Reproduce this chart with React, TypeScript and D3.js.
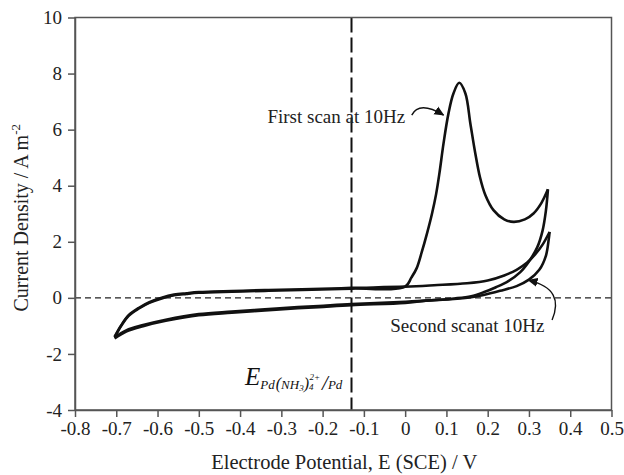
import { useEffect, useRef } from 'react';
import * as d3 from 'd3';

type Pt = [number, number];

const xTickValues = [-0.8, -0.7, -0.6, -0.5, -0.4, -0.3, -0.2, -0.1, 0, 0.1, 0.2, 0.3, 0.4, 0.5];
const yTickValues = [-4, -2, 0, 2, 4, 6, 8, 10];

// [potential V, current density A m-2]
const upperBranch: Pt[] = [
  [-0.704, -1.41], [-0.688, -1.0], [-0.67, -0.64], [-0.645, -0.38], [-0.62, -0.18],
  [-0.59, -0.02], [-0.56, 0.09], [-0.53, 0.14], [-0.5, 0.18], [-0.42, 0.22],
  [-0.34, 0.25], [-0.25, 0.28], [-0.13, 0.33], [0, 0.4],
];
const firstScanPeak: Pt[] = [
  [0, 0.4], [0.015, 0.72], [0.028, 1.06], [0.04, 1.62], [0.053, 2.3], [0.065, 3.0],
  [0.075, 3.7], [0.083, 4.44], [0.093, 5.51], [0.105, 6.58], [0.117, 7.29], [0.131, 7.67],
  [0.146, 7.29], [0.158, 6.22], [0.17, 5.15], [0.181, 4.32], [0.194, 3.68], [0.214, 3.13],
  [0.24, 2.8], [0.263, 2.71], [0.29, 2.8], [0.311, 3.01], [0.33, 3.38], [0.346, 3.87],
];
const firstScanReturn: Pt[] = [
  [0.346, 3.87], [0.341, 3.1], [0.333, 2.4], [0.32, 1.8], [0.3, 1.3], [0.279, 0.92],
  [0.25, 0.6], [0.22, 0.38], [0.19, 0.2], [0.16, 0.06], [0.12, -0.02], [0.05, -0.1],
];
const secondScanForward: Pt[] = [
  [0, 0.4], [0.07, 0.45], [0.15, 0.52], [0.2, 0.62], [0.24, 0.8], [0.27, 1.0],
  [0.295, 1.25], [0.315, 1.55], [0.333, 1.9], [0.35, 2.35],
];
const secondScanReturn: Pt[] = [
  [0.35, 2.35], [0.348, 2.1], [0.341, 1.5], [0.325, 1.0], [0.3, 0.65], [0.27, 0.42],
  [0.23, 0.25], [0.19, 0.1], [0.16, 0.02], [0.11, -0.05], [0.05, -0.1],
];
const lowerBranch: Pt[] = [
  [0, -0.14], [-0.13, -0.22], [-0.21, -0.29], [-0.26, -0.33], [-0.34, -0.41],
  [-0.42, -0.49], [-0.5, -0.58], [-0.58, -0.78], [-0.635, -0.97], [-0.676, -1.16], [-0.704, -1.41],
];

const equilibriumPotential = -0.13;

// annotation anchors, data units
const firstLabel: Pt = [0.0, 6.23];
const firstArrow: Pt[] = [[0.016, 6.52], [0.034, 7.04], [0.093, 6.52]];
const secondLabel: Pt = [-0.036, -1.22];
const secondArrow: Pt[] = [[0.356, -0.79], [0.376, -0.08], [0.362, 0.4], [0.299, 0.63]];
const eLabelPos: Pt = [-0.388, -3.12];

const serif = '"Liberation Serif", "Times New Roman", serif';

export default function App() {
  const ref = useRef<SVGSVGElement | null>(null);

  useEffect(() => {
    const svg = d3.select(ref.current);
    svg.selectAll('*').remove();

    const W = 624, H = 475;
    const margin = { top: 17.5, right: 12.5, bottom: 65, left: 75 };
    const width = W - margin.left - margin.right;
    const height = H - margin.top - margin.bottom;

    const x = d3.scaleLinear().domain([-0.8, 0.5]).range([0, width]);
    const y = d3.scaleLinear().domain([-4, 10]).range([height, 0]);

    svg.append('defs').append('marker')
      .attr('id', 'arrowhead')
      .attr('viewBox', '0 0 10 10')
      .attr('refX', 9).attr('refY', 5)
      .attr('markerWidth', 10).attr('markerHeight', 10)
      .attr('markerUnits', 'userSpaceOnUse')
      .attr('orient', 'auto')
      .append('path')
      .attr('d', 'M0,0.5 L10,5 L0,9.5 Z')
      .attr('fill', '#111');

    const g = svg.append('g').attr('transform', `translate(${margin.left},${margin.top})`);

    // zero line
    g.append('line')
      .attr('x1', 0).attr('x2', width)
      .attr('y1', y(0)).attr('y2', y(0))
      .attr('stroke', '#222').attr('stroke-width', 1.2)
      .attr('stroke-dasharray', '6,4');

    // equilibrium potential
    g.append('line')
      .attr('x1', x(equilibriumPotential)).attr('x2', x(equilibriumPotential))
      .attr('y1', 0).attr('y2', height)
      .attr('stroke', '#111').attr('stroke-width', 2)
      .attr('stroke-dasharray', '15,5');

    const line = d3.line<Pt>()
      .x(d => x(d[0]))
      .y(d => y(d[1]))
      .curve(d3.curveCatmullRom.alpha(0.5));

    // second scan traces sit a hair off the first one, so the shared parts read thicker
    const nudge = (pts: Pt[], di: number) => pts.map(d => [d[0], d[1] + di] as Pt);
    const branches: Pt[][] = [
      upperBranch.concat(firstScanPeak.slice(1)),
      firstScanReturn.concat(lowerBranch),
      nudge(upperBranch.slice(0, -1), 0.025).concat(secondScanForward),
      secondScanReturn.concat(nudge(lowerBranch, -0.04)),
    ];
    branches.forEach(b => {
      g.append('path')
        .datum(b)
        .attr('fill', 'none')
        .attr('stroke', '#111')
        .attr('stroke-width', 2.6)
        .attr('stroke-linejoin', 'round')
        .attr('d', line);
    });

    // frame
    g.append('rect')
      .attr('width', width).attr('height', height)
      .attr('fill', 'none').attr('stroke', '#555').attr('stroke-width', 1.5);

    const fmt = (d: d3.NumberValue) => String(Math.round(+d * 10) / 10);

    const xAxis = g.append('g')
      .attr('transform', `translate(0,${height})`)
      .call(d3.axisBottom(x).tickValues(xTickValues).tickSize(7).tickSizeOuter(0).tickPadding(5).tickFormat(fmt));
    const yAxis = g.append('g')
      .call(d3.axisLeft(y).tickValues(yTickValues).tickSize(7).tickSizeOuter(0).tickPadding(6).tickFormat(fmt));
    [xAxis, yAxis].forEach(a => {
      a.select('.domain').attr('stroke', '#555').attr('stroke-width', 1.5);
      a.selectAll('.tick line').attr('stroke', '#555').attr('stroke-width', 1.5);
      a.selectAll('.tick text')
        .attr('font-family', serif)
        .attr('font-size', 19)
        .attr('fill', '#222');
    });
    xAxis.selectAll('.tick text').attr('dy', '0.71em');

    // axis titles
    g.append('text')
      .attr('x', width / 2 + 1)
      .attr('y', height + 59)
      .attr('text-anchor', 'middle')
      .attr('font-family', serif).attr('font-size', 20.5).attr('fill', '#222')
      .text('Electrode Potential, E (SCE) / V');

    const yt = g.append('text')
      .attr('transform', `translate(${-47},${height / 2 + 4}) rotate(-90)`)
      .attr('text-anchor', 'middle')
      .attr('font-family', serif).attr('font-size', 20).attr('fill', '#222');
    yt.append('tspan').text('Current Density / A m');
    yt.append('tspan').attr('font-size', 13).attr('dy', -8).text('-2');

    // annotations
    g.append('text')
      .attr('x', x(firstLabel[0])).attr('y', y(firstLabel[1]))
      .attr('text-anchor', 'end')
      .attr('font-family', serif).attr('font-size', 19).attr('fill', '#222')
      .text('First scan at 10Hz');

    g.append('text')
      .attr('x', x(secondLabel[0])).attr('y', y(secondLabel[1]))
      .attr('font-family', serif).attr('font-size', 19).attr('fill', '#222')
      .text('Second scanat 10Hz');

    const [a0, a1, a2] = firstArrow.map(d => [x(d[0]), y(d[1])]);
    g.append('path')
      .attr('d', `M${a0[0]},${a0[1]} Q${a1[0]},${a1[1]} ${a2[0]},${a2[1]}`)
      .attr('fill', 'none').attr('stroke', '#111').attr('stroke-width', 1.4)
      .attr('marker-end', 'url(#arrowhead)');

    const [b0, b1, b2, b3] = secondArrow.map(d => [x(d[0]), y(d[1])]);
    g.append('path')
      .attr('d', `M${b0[0]},${b0[1]} C${b1[0]},${b1[1]} ${b2[0]},${b2[1]} ${b3[0]},${b3[1]}`)
      .attr('fill', 'none').attr('stroke', '#111').attr('stroke-width', 1.4)
      .attr('marker-end', 'url(#arrowhead)');

    const eLabel = g.append('text')
      .attr('x', x(eLabelPos[0])).attr('y', y(eLabelPos[1]))
      .attr('font-family', serif).attr('font-style', 'italic').attr('fill', '#111');
    eLabel.append('tspan').attr('font-size', 25).text('E');
    eLabel.append('tspan').attr('font-size', 13).attr('dy', 4).text('Pd');
    eLabel.append('tspan').attr('font-size', 16).attr('dx', 1).text('(');
    eLabel.append('tspan').attr('font-size', 13).text('NH');
    eLabel.append('tspan').attr('font-size', 9).attr('dy', 2).text('3');
    eLabel.append('tspan').attr('font-size', 16).attr('dy', -2).text(')');
    eLabel.append('tspan').attr('font-size', 9).attr('dy', 1).text('4');
    eLabel.append('tspan').attr('font-size', 9).attr('dx', -4).attr('dy', -10).text('2+');
    eLabel.append('tspan').attr('font-size', 21).attr('dx', 2).attr('dy', 10).text('/');
    eLabel.append('tspan').attr('font-size', 13).attr('dy', -1).text('Pd');
  }, []);

  return (
    <svg
      ref={ref}
      width={624}
      height={475}
      style={{ position: 'absolute', left: 0, top: 0, background: '#fff' }}
    />
  );
}
